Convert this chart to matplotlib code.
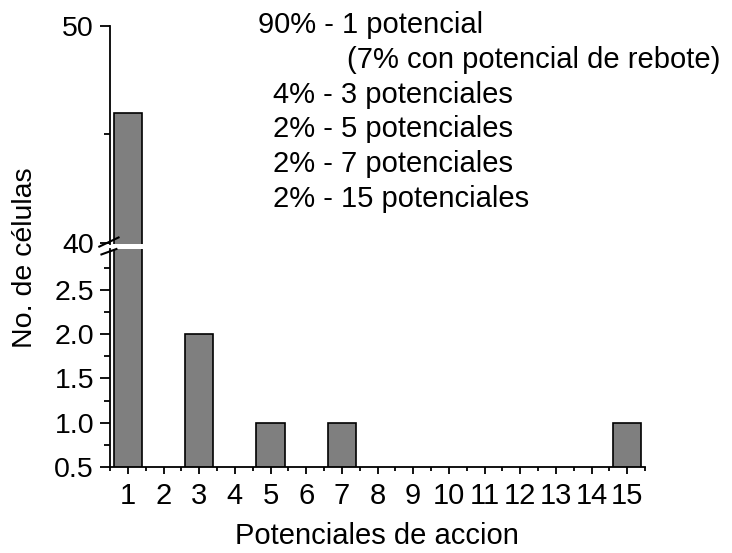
import matplotlib
matplotlib.use("Agg")
import matplotlib.pyplot as plt
from matplotlib.ticker import MultipleLocator

plt.rcParams['font.family'] = ['Liberation Sans', 'DejaVu Sans']

# Number of action potentials fired vs. number of cells
potenciales = [1, 3, 5, 7, 15]
celulas = [46, 2, 1, 1, 1]
x_ticks = list(range(1, 16))
summary_lines = [
    "90% - 1 potencial",
    "(7% con potencial de rebote)",
    "4% - 3 potenciales",
    "2% - 5 potenciales",
    "2% - 7 potenciales",
    "2% - 15 potenciales",
]

W, H = 732, 553
fig = plt.figure(figsize=(W / 100, H / 100), dpi=100)

def frac_box(left, top, right, bottom):
    return [left / W, 1 - bottom / H, (right - left) / W, (bottom - top) / H]

ax_hi = fig.add_axes(frac_box(110, 26, 645, 244))
ax_lo = fig.add_axes(frac_box(110, 249, 645, 467))

FS = 21
for ax in (ax_hi, ax_lo):
    ax.bar(potenciales, celulas, width=0.8, color='#7f7f7f',
           edgecolor='black', linewidth=1.2, zorder=2)
    ax.set_xlim(0.5, 15.5)
    for side in ('top', 'right'):
        ax.spines[side].set_visible(False)
    for side in ('left', 'bottom'):
        ax.spines[side].set_linewidth(1.3)
    ax.tick_params(axis='y', which='major', direction='out', length=7,
                   width=1.3, labelsize=20.5, pad=4.5)
    ax.tick_params(axis='y', which='minor', direction='out', length=4,
                   width=1.3)

ax_hi.set_ylim(39.95, 50)
ax_hi.yaxis.set_major_locator(MultipleLocator(10))
ax_hi.yaxis.set_minor_locator(MultipleLocator(5))
ax_hi.spines['bottom'].set_visible(False)
ax_hi.tick_params(axis='x', which='both', bottom=False, labelbottom=False)

ax_lo.set_ylim(0.5, 2.96)
ax_lo.yaxis.set_major_locator(MultipleLocator(0.5))
ax_lo.yaxis.set_minor_locator(MultipleLocator(0.25))
ax_lo.yaxis.set_major_formatter(plt.FormatStrFormatter('%.1f'))
ax_lo.set_xticks(x_ticks)
ax_lo.set_xticklabels([str(v) for v in x_ticks])
ax_lo.xaxis.set_minor_locator(MultipleLocator(0.5))
ax_lo.tick_params(axis='x', which='major', direction='out', length=5,
                  width=1.3, labelsize=FS, pad=6)
ax_lo.tick_params(axis='x', which='minor', direction='out', length=3,
                  width=1.3)

# Axis-break slashes on the left spine
brk = dict(color='black', linewidth=1.5, clip_on=False, zorder=5)
ax_hi.plot([-0.02, 0.016], [-0.012, 0.03], transform=ax_hi.transAxes, **brk)
ax_lo.plot([-0.016, 0.012], [0.975, 1.0], transform=ax_lo.transAxes, **brk)

fig.text(377 / W, 1 - 536 / H, "Potenciales de accion", fontsize=FS,
         ha='center', va='center')
fig.text(25 / W, 1 - 258 / H, "No. de células", fontsize=20.5,
         ha='center', va='center', rotation=90)

line_x = [258, 347, 273, 273, 273, 273]
line_base = [33, 68, 103, 137, 172, 207]
for txt, lx, ly in zip(summary_lines, line_x, line_base):
    fig.text(lx / W, 1 - ly / H, txt, fontsize=FS, ha='left', va='baseline')

fig.savefig("out.png", dpi=100)
